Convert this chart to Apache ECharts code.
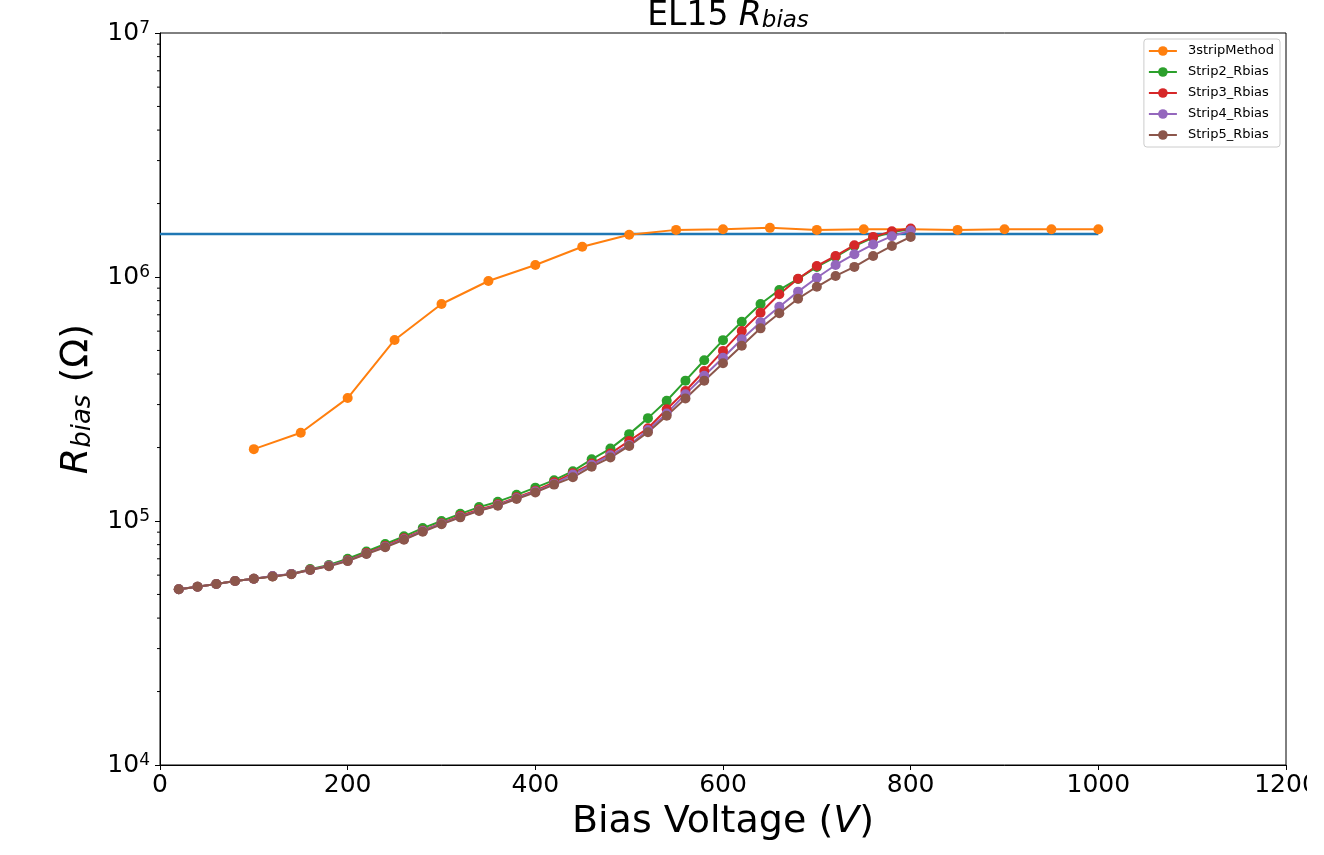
<!DOCTYPE html>
<html>
<head>
<meta charset="utf-8">
<script src="https://cdn.jsdelivr.net/npm/echarts@6/dist/echarts.min.js"></script>
<style>
html,body{margin:0;padding:0;background:#fff;}
#wrap{width:1324px;height:855px;overflow:hidden;background:#fff;}
#chart{width:1307px;height:855px;}
</style>
</head>
<body>
<div id="wrap"><div id="chart"></div></div>
<script>
// ---- data ----
const methodVoltages = [100,150,200,250,300,350,400,450,500,550,600,650,700,750,800,850,900,950,1000];
const method3strip = [1.97e5,2.30e5,3.19e5,5.52e5,7.75e5,9.63e5,1.12e6,1.33e6,1.49e6,1.56e6,1.57e6,1.59e6,1.56e6,1.57e6,1.57e6,1.56e6,1.57e6,1.57e6,1.57e6];

const stripVoltages = [20,40,60,80,100,120,140,160,180,200,220,240,260,280,300,320,340,360,380,400,
  420,440,460,480,500,520,540,560,580,600,620,640,660,680,700,720,740,760,780,800];

const strip2 = [5.25e4,5.38e4,5.52e4,5.68e4,5.80e4,5.93e4,6.07e4,6.35e4,6.60e4,7.00e4,
  7.50e4,8.05e4,8.65e4,9.35e4,1.00e5,1.07e5,1.14e5,1.20e5,1.28e5,1.37e5,1.47e5,
  1.60e5,1.79e5,1.98e5,2.27e5,2.64e5,3.11e5,3.76e5,4.56e5,5.51e5,6.56e5,7.75e5,8.85e5,9.82e5,1.10e6,1.21e6,1.34e6,1.45e6,1.53e6,1.57e6];
const strip3 = [5.25e4,5.38e4,5.52e4,5.68e4,5.80e4,5.93e4,6.06e4,6.32e4,6.55e4,6.90e4,
  7.40e4,7.90e4,8.50e4,9.15e4,9.80e4,1.05e5,1.115e5,1.17e5,1.25e5,1.33e5,1.44e5,
  1.57e5,1.72e5,1.89e5,2.13e5,2.40e5,2.87e5,3.41e5,4.12e5,4.98e5,6.01e5,7.14e5,8.50e5,9.84e5,1.11e6,1.22e6,1.35e6,1.46e6,1.54e6,1.58e6];
const strip4 = [5.25e4,5.38e4,5.52e4,5.68e4,5.80e4,5.95e4,6.07e4,6.30e4,6.55e4,6.88e4,
  7.35e4,7.85e4,8.42e4,9.10e4,9.75e4,1.04e5,1.105e5,1.16e5,1.24e5,1.32e5,1.42e5,
  1.55e5,1.70e5,1.86e5,2.05e5,2.36e5,2.76e5,3.31e5,3.94e5,4.67e5,5.56e5,6.52e5,7.55e5,8.71e5,9.93e5,1.12e6,1.24e6,1.36e6,1.47e6,1.55e6];
const strip5 = [5.25e4,5.38e4,5.52e4,5.68e4,5.80e4,5.92e4,6.05e4,6.30e4,6.52e4,6.85e4,
  7.32e4,7.80e4,8.38e4,9.04e4,9.69e4,1.035e5,1.10e5,1.155e5,1.23e5,1.31e5,1.41e5,
  1.51e5,1.67e5,1.82e5,2.03e5,2.31e5,2.70e5,3.18e5,3.76e5,4.43e5,5.23e5,6.16e5,7.10e5,8.15e5,9.12e5,1.01e6,1.10e6,1.22e6,1.34e6,1.46e6];

const refLineX = [0, 1000];
const refLineValue = 1.50e6;

const xTicks = [0,200,400,600,800,1000,1200];
const yMinorTicks = [2e4,3e4,4e4,5e4,6e4,7e4,8e4,9e4,2e5,3e5,4e5,5e5,6e5,7e5,8e5,9e5,2e6,3e6,4e6,5e6,6e6,7e6,8e6,9e6];

const seriesNames = ['3stripMethod','Strip2_Rbias','Strip3_Rbias','Strip4_Rbias','Strip5_Rbias'];
const colors = ['#ff7f0e','#2ca02c','#d62728','#9467bd','#8c564b'];

// ---- chart ----
const FONT = 'DejaVu Sans';
const zip = (xs, ys) => xs.map((x, i) => [x, ys[i]]);

function lineSeries(name, color, data) {
  return {
    name: name, type: 'line', data: data,
    symbol: 'circle', symbolSize: 10, showSymbol: true,
    lineStyle: { color: color, width: 2 },
    itemStyle: { color: color },
    emphasis: { disabled: true },
    animation: false
  };
}

const chart = echarts.init(document.getElementById('chart'), null, { renderer: 'canvas' });
chart.setOption({
  animation: false,
  backgroundColor: '#fff',
  textStyle: { fontFamily: FONT },
  title: {
    text: 'EL15 {i|R}{sub|bias}',
    left: 723, textAlign: 'center', top: -5,
    textStyle: {
      fontFamily: FONT, fontSize: 33, fontWeight: 'normal', color: '#000', lineHeight: 33,
      rich: {
        i: { fontFamily: FONT, fontSize: 33, fontStyle: 'italic', lineHeight: 33, color: '#000' },
        sub: { fontFamily: FONT, fontSize: 23, fontStyle: 'italic', lineHeight: 15, verticalAlign: 'bottom', color: '#000' }
      }
    }
  },
  legend: {
    data: seriesNames,
    orient: 'vertical',
    right: 27, top: 39,
    padding: [5, 6, 5, 4],
    itemWidth: 28, itemHeight: 12, itemGap: 7,
    backgroundColor: 'rgba(255,255,255,0.8)',
    borderColor: '#cccccc', borderWidth: 1, borderRadius: 3,
    textStyle: { fontFamily: FONT, fontSize: 13, color: '#000', lineHeight: 14, padding: [0, 0, 0, 6] }
  },
  grid: {
    left: 160, right: 21, top: 33, bottom: 90,
    outerBoundsMode: 'none', containLabel: false,
    show: true, borderColor: '#000', borderWidth: 1, backgroundColor: 'transparent'
  },
  xAxis: {
    type: 'value', min: 0, max: 1200, interval: 200,
    name: 'Bias Voltage ({i|V})',
    nameLocation: 'middle', nameGap: 37,
    nameTextStyle: {
      fontFamily: FONT, fontSize: 38, color: '#000',
      rich: { i: { fontFamily: FONT, fontSize: 38, fontStyle: 'italic', color: '#000' } }
    },
    axisLine: { show: true, lineStyle: { color: '#000', width: 1 } },
    axisTick: { show: true, length: 5, lineStyle: { color: '#000' } },
    axisLabel: {
      fontFamily: FONT, fontSize: 25, color: '#000', margin: 8, hideOverlap: false,
      formatter: v => xTicks.indexOf(v) >= 0 ? String(v) : ''
    },
    splitLine: { show: false }
  },
  yAxis: {
    type: 'log', logBase: 10, min: 1e4, max: 1e7,
    name: '{i|R}{sub|bias} (Ω)',
    nameLocation: 'middle', nameGap: 64, nameRotate: 90,
    nameTextStyle: {
      fontFamily: FONT, fontSize: 38, color: '#000', lineHeight: 38,
      rich: {
        i: { fontFamily: FONT, fontSize: 38, fontStyle: 'italic', lineHeight: 38, color: '#000' },
        sub: { fontFamily: FONT, fontSize: 26, fontStyle: 'italic', lineHeight: 17, verticalAlign: 'bottom', color: '#000' }
      }
    },
    axisLine: { show: true, lineStyle: { color: '#000', width: 1 } },
    axisTick: { show: true, length: 5, lineStyle: { color: '#000' } },
    axisLabel: {
      margin: 10, color: '#000',
      formatter: v => '{b|10}{s|' + Math.round(Math.log10(v)) + '}',
      rich: {
        b: { fontFamily: FONT, fontSize: 25, lineHeight: 25, color: '#000' },
        s: { fontFamily: FONT, fontSize: 17, lineHeight: 11, verticalAlign: 'top', color: '#000' }
      }
    },
    splitLine: { show: false }
  },
  series: [
    {
      type: 'line', data: zip(refLineX, [refLineValue, refLineValue]),
      showSymbol: false, symbol: 'none',
      lineStyle: { color: '#1f77b4', width: 2.4 },
      emphasis: { disabled: true }, silent: true, animation: false
    },
    lineSeries(seriesNames[0], colors[0], zip(methodVoltages, method3strip)),
    lineSeries(seriesNames[1], colors[1], zip(stripVoltages, strip2)),
    lineSeries(seriesNames[2], colors[2], zip(stripVoltages, strip3)),
    lineSeries(seriesNames[3], colors[3], zip(stripVoltages, strip4)),
    lineSeries(seriesNames[4], colors[4], zip(stripVoltages, strip5)),
    {
      type: 'custom', silent: true, clip: false, z: 5, animation: false,
      data: yMinorTicks.map(v => [0, v]),
      renderItem: function (params, api) {
        const p = api.coord([0, api.value(1)]);
        return {
          type: 'line',
          shape: { x1: p[0] - 3, y1: p[1], x2: p[0], y2: p[1] },
          style: { stroke: '#000', lineWidth: 1 }
        };
      }
    }
  ]
});
</script>
</body>
</html>
